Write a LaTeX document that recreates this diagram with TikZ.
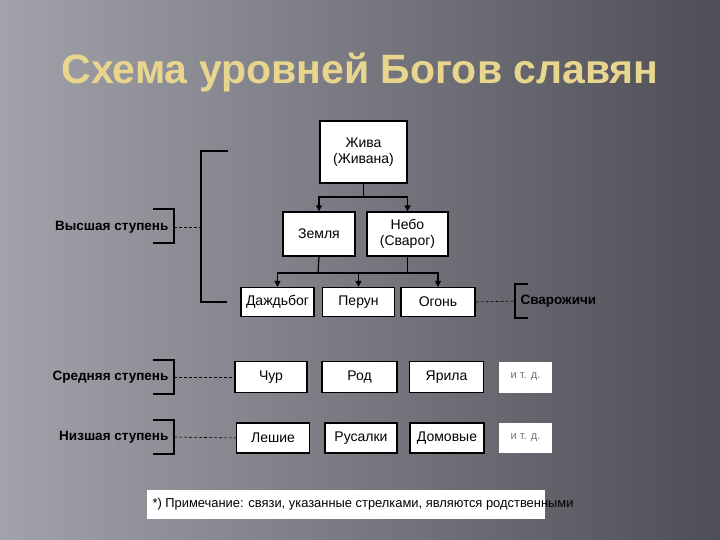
\documentclass[tikz,border=0pt]{standalone}
\usepackage{fontspec}
\setmainfont{Liberation Sans}
\usepackage{xcolor}
\usetikzlibrary{arrows.meta}
\definecolor{bgleft}{HTML}{A2A2AA}
\definecolor{bgright}{HTML}{4E4E56}
\definecolor{titlegold}{HTML}{E8D68E}
\definecolor{etcgray}{HTML}{707070}

\begin{document}
\begin{tikzpicture}[x=1pt,y=-1pt,
  god/.style={draw=black, line width=1.3pt, fill=white, inner sep=0pt,
    font=\fontsize{14}{16}\selectfont, align=center},
  etcbox/.style={fill=white, inner sep=0pt, font=\fontsize{11}{12}\selectfont, text=etcgray},
  stupen/.style={font=\bfseries\fontsize{13.5}{15}\selectfont, text=black},
  tree/.style={line width=1.2pt},
  arr/.style={line width=1.2pt, -{Triangle[length=6pt,width=6pt]}},
  lvl/.style={line width=1.4pt},
  dashlink/.style={densely dashed, line width=0.6pt}]
  % Background
  \useasboundingbox (0,0) rectangle (720,540);
  \shade[left color=bgleft, right color=bgright] (0,0) rectangle (720,540);

  % Title
  \node[font=\bfseries\fontsize{41}{46}\selectfont, text=titlegold] (title) at (360,73) {Схема уровней Богов славян};

  % Gods
  \node[god, minimum width=87pt, minimum height=62pt] (zhiva) at (363.5,152) {Жива\\(Живана)};
  \node[god, minimum width=72pt, minimum height=44pt] (zemlya) at (319,234) {Земля};
  \node[god, minimum width=81pt, minimum height=44pt] (nebo) at (407.5,234) {Небо\\(Сварог)};

  \node[god, minimum width=73pt, minimum height=29pt] (dazhdbog) at (277.5,302) {Даждьбог};
  \node[god, minimum width=72pt, minimum height=29pt] (perun) at (358.5,302) {Перун};
  \node[god, minimum width=74pt, minimum height=29pt] (ogon) at (438,302) {Огонь};

  \node[god, minimum width=72pt, minimum height=31pt] (chur) at (271,377) {Чур};
  \node[god, minimum width=75pt, minimum height=31pt] (rod) at (359.5,377) {Род};
  \node[god, minimum width=74pt, minimum height=31pt] (yarila) at (446.5,377) {Ярила};
  \node[etcbox, minimum width=53pt, minimum height=31pt] (etcmid) at (525.5,377) {и т. д.};

  \node[god, minimum width=73pt, minimum height=30pt] (leshie) at (273,438) {Лешие};
  \node[god, minimum width=72pt, minimum height=30pt] (rusalki) at (361,438) {Русалки};
  \node[god, minimum width=74pt, minimum height=30pt] (domovye) at (447,438) {Домовые};
  \node[etcbox, minimum width=53pt, minimum height=30pt] (etclow) at (525.5,438) {и т. д.};

  % Family links
  \coordinate (fork1) at (363.5,197);
  \coordinate (fork2) at (318,273);
  \draw[tree] (zhiva.south) -- (fork1);
  \draw[arr] (fork1) -| (zemlya.north);
  \draw[arr] (fork1) -| (nebo.north);
  \draw[tree] (zemlya.south) -- (fork2);
  \draw[tree] (nebo.south) -- (nebo.south |- fork2);
  \draw[arr] (fork2) -| (dazhdbog.north);
  \draw[arr] (fork2) -| (ogon.north);
  \draw[arr] (perun.north |- fork2) -- (perun.north);

  % Levels
  \draw[lvl] (228,151) -- (201,151) -- (201,302) -- (227,302);
  \coordinate (vys) at (174,227);
  \coordinate (vysbr) at (201,227);
  \draw[lvl] (153,209) -- (174,209) -- (174,243) -- (153,243);
  \node[stupen, anchor=east] (vyslbl) at (172,227) {Высшая ступень};
  \draw[dashlink] (vys) -- (vysbr);

  \coordinate (sred) at (174,377);
  \draw[lvl] (153,360) -- (174,360) -- (174,394) -- (153,394);
  \node[stupen, anchor=east] (sredlbl) at (172,377) {Средняя ступень};
  \draw[dashlink] (sred) -- (chur.west);

  \coordinate (niz) at (174,437);
  \draw[lvl] (153,420) -- (174,420) -- (174,454) -- (153,454);
  \node[stupen, anchor=east] (nizlbl) at (172,437) {Низшая ступень};
  \draw[dashlink] (niz) -- (leshie.west);

  \coordinate (svar) at (515,301);
  \draw[lvl] (528,284) -- (515,284) -- (515,318) -- (528,318);
  \node[stupen, anchor=west] (svarlbl) at (517,301) {Сварожичи};
  \draw[dashlink] (ogon.east) -- (svar);

  % Note
  \fill[white] (147,490) rectangle (545,519);
  \node[anchor=west, font=\fontsize{12.9}{14}\selectfont] (note) at (149,504.5) {*) Примечание: связи, указанные стрелками, являются родственными};
\end{tikzpicture}
\end{document}
